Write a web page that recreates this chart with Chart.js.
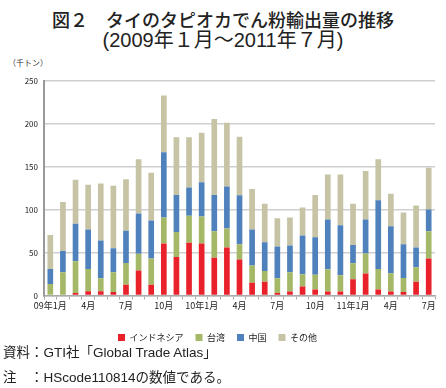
<!DOCTYPE html>
<html>
<head>
<meta charset="utf-8">
<script src="https://cdn.jsdelivr.net/npm/chart.js@4/dist/chart.umd.min.js"></script>
<style>
    body{ margin:0; width:446px; height:388px; background:#fff; position:relative; overflow:hidden;
          font-family:"Noto Sans CJK JP", sans-serif; color:#222; }
    .titulo{ position:absolute; left:0; width:446px; text-align:center; line-height:22px; white-space:nowrap; }
    .unidade{ position:absolute; left:8px; top:57px; font-size:8px; color:#333; }
    .nota{ position:absolute; left:3px; font-size:13.5px; line-height:16px;
           font-family:"Liberation Sans","Noto Sans CJK JP", sans-serif; }
    #wrap{ position:absolute; left:0; top:60px; width:446px; height:292px; }
</style>
</head>
<body>

<div class="titulo" style="top:8px; font-size:18px; font-weight:500;">図２　タイのタピオカでん粉輸出量の推移</div>
<div class="titulo" style="top:29px; font-size:20px; font-family:'Liberation Sans','Noto Sans CJK JP',sans-serif;">(2009年１月～2011年７月)</div>
<div class="unidade">（千トン）</div>

<div id="wrap"><canvas id="grafico"></canvas></div>

<div class="nota" style="top:345px;">資料：GTI社「Global Trade Atlas」</div>
<div class="nota" style="top:370px;">注　：HScode110814の数値である。</div>

<script>
// =====================================================
// DADOS (千トン) - jan/2009 a jul/2011
// =====================================================

const meses = [
    "09年1月","2月","3月","4月","5月","6月","7月","8月","9月","10月","11月","12月",
    "10年1月","2月","3月","4月","5月","6月","7月","8月","9月","10月","11月","12月",
    "11年1月","2月","3月","4月","5月","6月","7月"
];

// rótulos exibidos no eixo x (a cada 3 meses)
const rotulosX = [
    "09年1月","","","4月","","","7月","","","10月","","",
    "10年1月","","","4月","","","7月","","","10月","","",
    "11年1月","","","4月","","","7月"
];

const indonesia = [0,0,3,5,5,4,12.5,29,12.5,60.7,45,61.5,60.7,44,56,42,15,16,3,4.7,10.6,7,4.7,4.7,19,25.5,7,4.7,4,16,43];
const taiwan    = [13.3,27,37,26,15,23,25.5,19.6,30.5,30.3,29,31.5,31.3,31,22,17.6,20,12.6,17,22.3,14.1,17.3,25.9,18.8,18.6,23.5,24,21.3,16.4,17,32];
const china     = [17.7,25,43.5,46,44,28,37.6,47,44.4,76,43,33,40,42,49,57.2,41.8,33.4,37,31.4,45.3,43.7,57.9,58.5,21.2,39.5,80,54.7,39.2,23,25.3];
const outros    = [39.5,57,51.5,52,66.5,73,60,63.1,55.6,66,67.5,58.5,57.6,88.7,74.4,68.2,47.2,45,33,32.6,32.7,49,52.5,59,48.2,56.5,47.7,38,37.2,49,48.7];

const series = ["インドネシア","台湾","中国","その他"];
const cores  = ["#e8212a","#a5b867","#4f81bd","#c7c3a5"];

// =====================================================
// GRÁFICO
// =====================================================

const fonte = "'Noto Sans CJK JP', sans-serif";

const conjuntos = [indonesia, taiwan, china, outros].map((valores, i) => ({
    label: series[i],
    data: valores,
    backgroundColor: cores[i],
    borderWidth: 0,
    categoryPercentage: 0.9,
    barPercentage: 0.5
}));

new Chart(document.getElementById("grafico"), {

    type: "bar",

    data: {
        labels: meses,
        datasets: conjuntos
    },

    options: {

        responsive: true,
        maintainAspectRatio: false,
        animation: false,

        layout: {
            padding: { top: 21, right: 11, left: 0, bottom: 0 }
        },

        plugins: {
            legend: {
                position: "bottom",
                labels: {
                    boxWidth: 7,
                    boxHeight: 7,
                    padding: 12,
                    color: "#222",
                    font: { family: fonte, size: 9 }
                }
            },
            tooltip: { enabled: false }
        },

        scales: {

            x: {
                stacked: true,
                afterFit: (s) => { s.height = 25.5; },
                grid: {
                    offset: true,
                    drawOnChartArea: false,
                    tickLength: 4,
                    color: "#aaa"
                },
                border: { color: "#aaa", width: 1.5 },
                ticks: {
                    autoSkip: false,
                    maxRotation: 0,
                    minRotation: 0,
                    padding: 1,
                    color: "#222",
                    font: { family: fonte, size: 9 },
                    callback: (v, i) => rotulosX[i]
                }
            },

            y: {
                stacked: true,
                min: 0,
                max: 250,
                afterFit: (s) => { s.width = 44; },
                grid: {
                    color: "#cfcfcf",
                    lineWidth: 1.5,
                    drawTicks: false
                },
                border: { color: "#999", width: 2 },
                ticks: {
                    stepSize: 50,
                    padding: 6,
                    color: "#222",
                    font: { family: fonte, size: 8 }
                }
            }

        }

    }

});
</script>
</body>
</html>
